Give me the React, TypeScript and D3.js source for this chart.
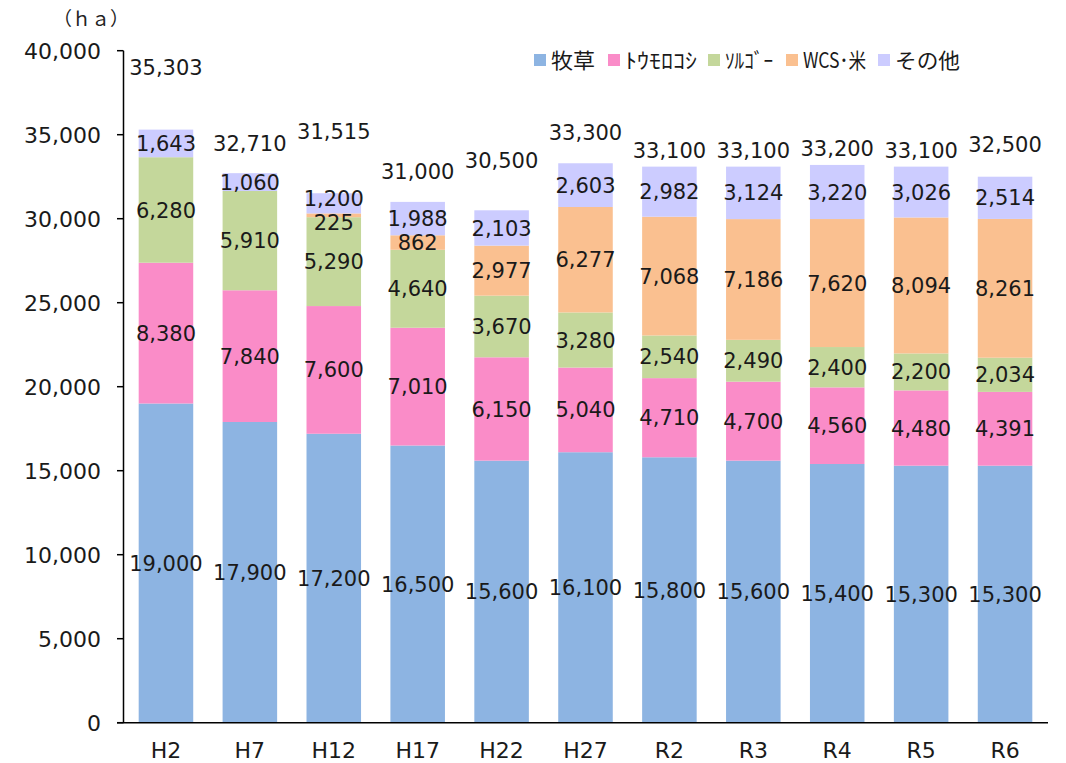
import * as d3 from "d3";

// 年次
const years = ["H2", "H7", "H12", "H17", "H22", "H27", "R2", "R3", "R4", "R5", "R6"];

// 作付面積 (ha)
const bokuso = [19000, 17900, 17200, 16500, 15600, 16100, 15800, 15600, 15400, 15300, 15300];
const tomorokoshi = [8380, 7840, 7600, 7010, 6150, 5040, 4710, 4700, 4560, 4480, 4391];
const sorugo = [6280, 5910, 5290, 4640, 3670, 3280, 2540, 2490, 2400, 2200, 2034];
const wcsKome = [0, 0, 225, 862, 2977, 6277, 7068, 7186, 7620, 8094, 8261];
const sonota = [1643, 1060, 1200, 1988, 2103, 2603, 2982, 3124, 3220, 3026, 2514];
const totals = [35303, 32710, 31515, 31000, 30500, 33300, 33100, 33100, 33200, 33100, 32500];

const seriesNames = ["牧草", "ﾄｳﾓﾛｺｼ", "ｿﾙｺﾞｰ", "WCS･米", "その他"];
const seriesValues = [bokuso, tomorokoshi, sorugo, wcsKome, sonota];
const seriesColors = ["#8db4e2", "#fa8cc8", "#c4d79b", "#fac090", "#ccccff"];

const yTicks = [0, 5000, 10000, 15000, 20000, 25000, 30000, 35000, 40000];

// how far the total label sits above each bar (px), as in the original
const totalLift = [62, 30, 62, 30, 50, 31, 16, 16, 17, 16, 32];

const W = 1066;
const H = 763;
const numFont = "'DejaVu Sans', Verdana, sans-serif";
const jpFont = "'Noto Sans CJK JP', sans-serif";

export default function App() {
  const x = d3.scaleBand().domain(years).range([124, 1047]).paddingInner(0.35).paddingOuter(0.175);
  const y = d3.scaleLinear().domain([0, 40000]).range([722.7, 50.7]);
  const fmt = d3.format(",");
  const cx = (yr: string) => (x(yr) as number) + x.bandwidth() / 2;

  const rows = years.map((yr, i) => {
    const row: any = { year: yr };
    seriesNames.forEach((s, k) => (row[s] = seriesValues[k][i]));
    return row;
  });
  const stacked = d3.stack().keys(seriesNames)(rows);

  // legend placement and label widths, matched to the original
  const legendX = [534, 608, 708, 786, 878];
  const legendW = [44, 72, 48, 63, 65];

  return (
    <svg width={W} height={H} style={{ position: "absolute", left: 0, top: 0, background: "#fff" }}>
      {/* unit */}
      <text x={91} y={19} dy="0.36em" fontFamily={jpFont} fontSize={19} textAnchor="middle" fill="#222">
        （ｈａ）
      </text>

      {/* bars */}
      {stacked.map((layer, k) => (
        <g key={layer.key}>
          {layer.map((d, i) =>
            d[1] - d[0] > 0 ? (
              <rect
                key={i}
                x={x(years[i])}
                y={y(d[1])}
                width={x.bandwidth()}
                height={y(d[0]) - y(d[1])}
                fill={seriesColors[k]}
              />
            ) : null
          )}
        </g>
      ))}

      {/* segment labels */}
      {stacked.map((layer, k) => (
        <g key={"l" + layer.key}>
          {layer.map((d, i) => {
            const v = d[1] - d[0];
            if (v <= 0) return null;
            let cy = (y(d[0]) + y(d[1])) / 2;
            if (v < 500) cy += 7;
            const below = k > 0 ? stacked[k - 1][i][1] - stacked[k - 1][i][0] : 0;
            if (k > 0 && below > 0 && below < 500) cy -= 5;
            return (
              <text
                key={i}
                x={cx(years[i])}
                y={cy}
                dy="0.36em"
                textAnchor="middle"
                fontFamily={numFont}
                fontSize={21}
                fill="#1a1a1a"
              >
                {fmt(v)}
              </text>
            );
          })}
        </g>
      ))}

      {/* totals */}
      {totals.map((t, i) => (
        <text
          key={"t" + i}
          x={cx(years[i])}
          y={y(t) - totalLift[i]}
          dy="0.36em"
          textAnchor="middle"
          fontFamily={numFont}
          fontSize={21}
          fill="#1a1a1a"
        >
          {fmt(t)}
        </text>
      ))}

      {/* y axis */}
      <line x1={123.5} x2={123.5} y1={y(40000)} y2={y(0)} stroke="#000" strokeWidth={1.5} />
      {yTicks.map((t) => (
        <g key={"y" + t}>
          <line x1={117} x2={123.5} y1={y(t)} y2={y(t)} stroke="#000" strokeWidth={1.5} />
          <text
            x={101}
            y={y(t)}
            dy="0.36em"
            textAnchor="end"
            fontFamily={numFont}
            fontSize={22}
            fill="#1a1a1a"
          >
            {fmt(t)}
          </text>
        </g>
      ))}

      {/* x axis */}
      <line x1={117} x2={1048} y1={y(0)} y2={y(0)} stroke="#000" strokeWidth={1.5} />
      {years.map((yr) => (
        <text
          key={"x" + yr}
          x={cx(yr)}
          y={750}
          dy="0.36em"
          textAnchor="middle"
          fontFamily={numFont}
          fontSize={22}
          fill="#1a1a1a"
        >
          {yr}
        </text>
      ))}

      {/* legend */}
      {seriesNames.map((s, k) => (
        <g key={"lg" + s} transform={`translate(${legendX[k]},60)`}>
          <rect x={0} y={-6} width={12} height={12} fill={seriesColors[k]} />
          <text
            x={17}
            y={0}
            dy="0.36em"
            fontFamily={jpFont}
            fontSize={21}
            fill="#1a1a1a"
            textLength={legendW[k]}
            lengthAdjust="spacingAndGlyphs"
          >
            {s}
          </text>
        </g>
      ))}
    </svg>
  );
}
